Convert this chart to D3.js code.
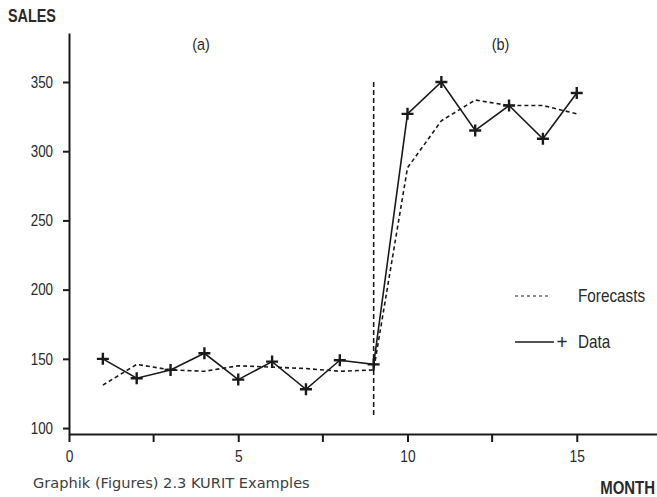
<!DOCTYPE html>
<html>
<head>
<meta charset="utf-8">
<script src="https://cdn.jsdelivr.net/npm/d3@7"></script>
<style>
  body { margin: 0; background: #fff; }
  svg { display: block; }
  .narrow { font-family: "Liberation Sans", Arial, sans-serif; }
</style>
</head>
<body>
<svg id="chart"></svg>
<script>
// Chart size
const width = 657;
const height = 497;

// Data
const months = [1, 2, 3, 4, 5, 6, 7, 8, 9, 10, 11, 12, 13, 14, 15];
const sales = [150, 136, 142, 154, 135, 148, 128, 149, 146, 327, 350, 315, 333, 309, 342];
const forecasts = [131, 146, 142, 141, 145, 144, 143, 141, 142, 288, 322, 337, 333, 333, 327];
const xTicks = [0, 5, 10, 15];
const xMinorTicks = [2.5, 7.5, 12.5];
const yTicks = [100, 150, 200, 250, 300, 350];
const breakMonth = 9;
const breakRange = [109, 350];
const panelLabels = [{ text: "(a)", month: 3.9 }, { text: "(b)", month: 12.75 }];
const legendItems = ["Forecasts", "Data"];

// Visual constants
const INK = '#1a1a1a';
const TEXT = '#2a2a2a';
const LINE_WIDTH = 1.6;
const CROSS_SIZE = 6;
const NARROW = 0.81;   // horizontal squeeze to mimic a narrow face

const svg = d3.select('#chart')
    .attr('width', width)
    .attr('height', height);

const x = d3.scaleLinear().domain([0, 17.4]).range([69, 658]);
const y = d3.scaleLinear().domain([95.7, 385.4]).range([434, 33]);

// narrow text placed with a transform
function narrowText(parent, tx, ty, size, sx) {
    return parent.append('text')
        .attr('class', 'narrow')
        .attr('transform', `translate(${tx},${ty}) scale(${sx},1)`)
        .attr('font-size', size)
        .attr('fill', TEXT);
}

// Axes ------------------------------------------------------------------------

const yAxis = svg.append('g')
    .attr('transform', `translate(${x(0)},0)`)
    .call(d3.axisLeft(y).tickValues(yTicks).tickSize(6).tickSizeOuter(0));
yAxis.select('.domain').attr('stroke', INK).attr('stroke-width', 2);
yAxis.selectAll('.tick line').attr('stroke', INK).attr('stroke-width', 2);
yAxis.selectAll('.tick text')
    .attr('class', 'narrow')
    .attr('x', 0)
    .attr('transform', `translate(-16,0) scale(${NARROW},1)`)
    .attr('font-size', 16.5)
    .attr('fill', TEXT);

const xAxis = svg.append('g')
    .attr('transform', `translate(0,${y.range()[0]})`)
    .call(d3.axisBottom(x).tickValues(xTicks).tickSize(8).tickPadding(8).tickSizeOuter(0));
xAxis.select('.domain').attr('stroke', INK).attr('stroke-width', 2);
xAxis.selectAll('.tick line').attr('stroke', INK).attr('stroke-width', 2);
xAxis.selectAll('.tick text')
    .attr('class', 'narrow')
    .attr('transform', `scale(${NARROW},1)`)
    .attr('font-size', 17)
    .attr('fill', TEXT);

xAxis.selectAll('.minor')
    .data(xMinorTicks)
    .join('line')
        .attr('x1', d => x(d))
        .attr('x2', d => x(d))
        .attr('y1', 0)
        .attr('y2', 8)
        .attr('stroke', INK)
        .attr('stroke-width', 2);

// Axis titles and labels
narrowText(svg, 8, 22, 18, 0.8)
    .attr('font-weight', 'bold')
    .text('SALES');

narrowText(svg, 655, 494, 18, 0.83)
    .attr('text-anchor', 'end')
    .attr('font-weight', 'bold')
    .text('MONTH');

svg.append('text')
    .attr('x', 33)
    .attr('y', 488)
    .attr('font-family', '"DejaVu Sans", Verdana, sans-serif')
    .attr('font-size', 14.6)
    .attr('fill', '#404040')
    .text('Graphik (Figures) 2.3 KURIT Examples');

panelLabels.forEach(d => {
    narrowText(svg, x(d.month), 50, 17, 0.85)
        .attr('text-anchor', 'middle')
        .text(d.text);
});

// Structural break ------------------------------------------------------------

svg.append('line')
    .attr('x1', x(breakMonth))
    .attr('x2', x(breakMonth))
    .attr('y1', y(breakRange[1]))
    .attr('y2', y(breakRange[0]))
    .attr('stroke', INK)
    .attr('stroke-width', LINE_WIDTH)
    .attr('stroke-dasharray', '5,3');

// Series ----------------------------------------------------------------------

const line = d3.line()
    .x(d => x(d[0]))
    .y(d => y(d[1]));

svg.append('path')
    .datum(d3.zip(months, forecasts))
    .attr('d', line)
    .attr('fill', 'none')
    .attr('stroke', INK)
    .attr('stroke-width', LINE_WIDTH)
    .attr('stroke-dasharray', '4,3');

svg.append('path')
    .datum(d3.zip(months, sales))
    .attr('d', line)
    .attr('fill', 'none')
    .attr('stroke', INK)
    .attr('stroke-width', LINE_WIDTH);

svg.append('g')
    .selectAll('path')
    .data(d3.zip(months, sales))
    .join('path')
        .attr('d', d => {
            const cx = x(d[0]), cy = y(d[1]);
            return `M${cx - CROSS_SIZE},${cy}H${cx + CROSS_SIZE}M${cx},${cy - CROSS_SIZE}V${cy + CROSS_SIZE}`;
        })
        .attr('stroke', INK)
        .attr('stroke-width', 2.4);

// Legend ----------------------------------------------------------------------

const legend = svg.append('g');
const legendY = [296, 342];

legend.append('line')
    .attr('x1', 515).attr('x2', 548)
    .attr('y1', legendY[0]).attr('y2', legendY[0])
    .attr('stroke', INK)
    .attr('stroke-width', 1.2)
    .attr('stroke-dasharray', '3,3');

legend.append('line')
    .attr('x1', 515).attr('x2', 554)
    .attr('y1', legendY[1]).attr('y2', legendY[1])
    .attr('stroke', INK)
    .attr('stroke-width', 1.6);

narrowText(legend, 562, legendY[1] + 7, 21, 0.9)
    .attr('text-anchor', 'middle')
    .text('+');

legendItems.forEach((d, i) => {
    narrowText(legend, 578, legendY[i] + 6, 18, 0.85)
        .text(d);
});
</script>
</body>
</html>
